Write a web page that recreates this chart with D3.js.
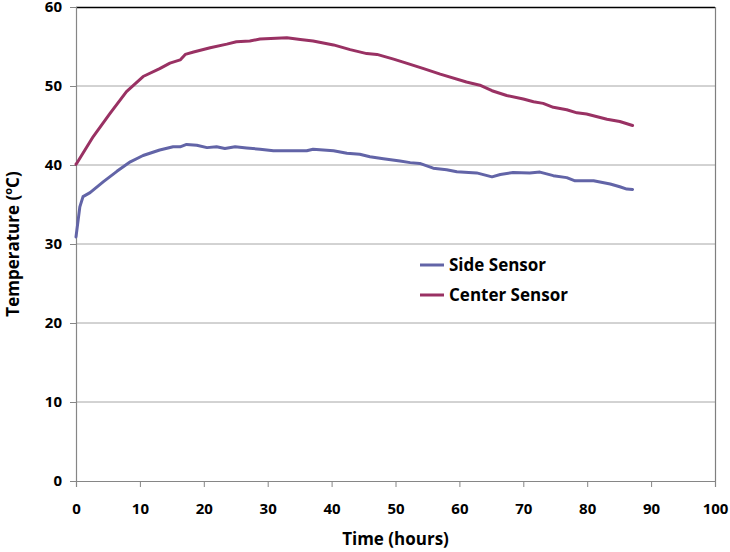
<!DOCTYPE html>
<html>
<head>
<meta charset="utf-8">
<script src="https://cdn.jsdelivr.net/npm/d3@7"></script>
<style>
  html, body { margin: 0; padding: 0; background: #fff; }
  svg { display: block; font-family: "Open Sans", Lato, sans-serif; }
</style>
</head>
<body>
<svg id="chart" width="730" height="552"></svg>
<script>
// Side sensor readings (hours, °C)
const sideTime = [0, 0.6, 1.1, 2.2, 4.3, 6.4, 8.5, 10.5, 13.1, 15.2, 16.3, 17.3, 18.9, 20.5, 22, 23.3, 24.9, 26.7, 28.8, 30.9, 34, 36.1, 37.1, 40.3, 42.4, 44.4, 46, 48.1, 50.7, 52.3, 53.8, 55.9, 58, 59.6, 62.7, 65.1, 66.4, 68.4, 71, 72.6, 74.7, 76.8, 78.1, 81, 83.6, 85.1, 86.2, 87.1];
const sideTemp = [30.9, 34.7, 36.0, 36.5, 37.9, 39.2, 40.4, 41.2, 41.9, 42.3, 42.3, 42.6, 42.5, 42.2, 42.3, 42.1, 42.3, 42.15, 42.0, 41.8, 41.8, 41.8, 42.0, 41.8, 41.5, 41.35, 41.05, 40.8, 40.5, 40.3, 40.2, 39.6, 39.4, 39.15, 39.0, 38.5, 38.8, 39.05, 39.0, 39.1, 38.65, 38.4, 38.0, 38.0, 37.6, 37.25, 36.95, 36.9];

// Center sensor readings (hours, °C)
const centerTime = [0, 0.1, 2.7, 5.3, 7.9, 10.5, 13.1, 14.7, 16.3, 17.1, 18.4, 21, 23.6, 25.1, 27.2, 28.8, 33, 35.1, 37.1, 40.3, 42.9, 45.5, 47.1, 49.7, 51.7, 54.4, 57, 61.1, 63.2, 65.1, 67.4, 70, 71.6, 73.1, 74.7, 76.8, 78.4, 79.9, 83.1, 85.1, 87.1];
const centerTemp = [40.1, 40.2, 43.6, 46.5, 49.3, 51.2, 52.2, 52.9, 53.3, 54.0, 54.3, 54.85, 55.3, 55.6, 55.7, 55.95, 56.1, 55.9, 55.7, 55.2, 54.6, 54.1, 54.0, 53.4, 52.9, 52.2, 51.5, 50.5, 50.1, 49.4, 48.8, 48.35, 48.0, 47.8, 47.3, 47.0, 46.6, 46.45, 45.8, 45.5, 45.0];

const xTicks = [0, 10, 20, 30, 40, 50, 60, 70, 80, 90, 100];
const yTicks = [0, 10, 20, 30, 40, 50, 60];

const seriesNames = ["Side Sensor", "Center Sensor"];
const seriesColors = ["#6264a7", "#993163"];

const svg = d3.select("#chart");
const plotLeft = 76, plotRight = 715, plotTop = 7, plotBottom = 481;

const x = d3.scaleLinear().domain([0, 100]).range([plotLeft, plotRight]);
const y = d3.scaleLinear().domain([0, 60]).range([plotBottom, plotTop]);

// Horizontal gridlines
svg.append("g")
  .selectAll("line")
  .data(yTicks.filter(v => v > 0 && v < 60))
  .join("line")
  .attr("x1", plotLeft).attr("x2", plotRight)
  .attr("y1", d => y(d)).attr("y2", d => y(d))
  .attr("stroke", "#a6a6a6").attr("stroke-width", 1);

// Frame: top and right edges
svg.append("line").attr("x1", plotLeft).attr("x2", plotRight).attr("y1", y(60) + 0.5).attr("y2", y(60) + 0.5)
  .attr("stroke", "#000").attr("stroke-width", 1.5);
svg.append("line").attr("x1", plotRight + 0.5).attr("x2", plotRight + 0.5).attr("y1", plotTop).attr("y2", plotBottom)
  .attr("stroke", "#7f7f7f").attr("stroke-width", 1.2);

// Axes
const xAxis = svg.append("g")
  .attr("transform", `translate(0,${plotBottom})`)
  .call(d3.axisBottom(x).tickValues(xTicks).tickSize(6).tickPadding(16).tickFormat(d3.format("d")));
const yAxis = svg.append("g")
  .attr("transform", `translate(${plotLeft},0)`)
  .call(d3.axisLeft(y).tickValues(yTicks).tickSize(6).tickPadding(8).tickFormat(d3.format("d")));

[xAxis, yAxis].forEach(a => {
  a.select(".domain").attr("stroke", "#868686").attr("stroke-width", 1.2);
  a.selectAll(".tick line").attr("stroke", "#868686");
  a.selectAll(".tick text")
    .attr("fill", "#000")
    .style("font-size", "15px")
    .style("font-weight", "bold")
    .style("font-family", "'Open Sans', Lato, sans-serif");
});

// Series lines
const line = d3.line().x(d => x(d[0])).y(d => y(d[1])).curve(d3.curveLinear);
const sideData = d3.zip(sideTime, sideTemp);
const centerData = d3.zip(centerTime, centerTemp);

[sideData, centerData].forEach((data, i) => {
  svg.append("path")
    .datum(data)
    .attr("fill", "none")
    .attr("stroke", seriesColors[i])
    .attr("stroke-width", 3)
    .attr("stroke-linejoin", "round")
    .attr("stroke-linecap", "round")
    .attr("d", line);
});

// Legend
const legend = svg.append("g").attr("transform", "translate(420,265)");
seriesNames.forEach((name, i) => {
  const g = legend.append("g").attr("transform", `translate(0,${i * 30})`);
  g.append("line").attr("x1", 0).attr("x2", 24).attr("y1", 0).attr("y2", 0)
    .attr("stroke", seriesColors[i]).attr("stroke-width", 3);
  g.append("text").attr("x", 29).attr("y", 0).attr("dy", "0.36em")
    .style("font-size", "17px").style("font-weight", "bold").text(name);
});

// Axis titles
svg.append("text")
  .attr("x", (plotLeft + plotRight) / 2).attr("y", 545)
  .attr("text-anchor", "middle")
  .style("font-size", "17px").style("font-weight", "bold")
  .text("Time (hours)");

const yTitle = svg.append("text")
  .attr("transform", `translate(19,${(plotTop + plotBottom) / 2}) rotate(-90)`)
  .attr("text-anchor", "middle")
  .style("font-size", "17px").style("font-weight", "bold");
yTitle.append("tspan").text("Temperature (");
yTitle.append("tspan").attr("baseline-shift", "super").style("font-size", "11px").text("o");
yTitle.append("tspan").text("C)");
</script>
</body>
</html>
